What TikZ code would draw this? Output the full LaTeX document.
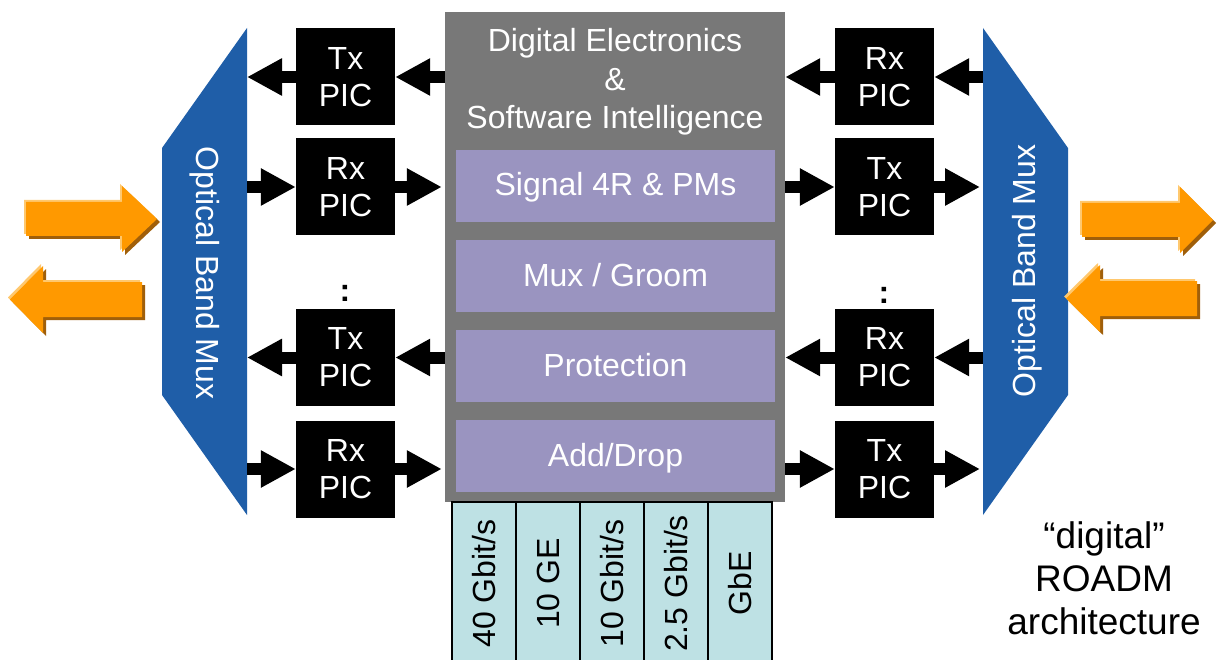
\documentclass[tikz,border=0pt]{standalone}
\usepackage{fontspec}
\setmainfont{Liberation Sans}
\usepackage{tikz}
\usetikzlibrary{arrows.meta}
\usetikzlibrary{calc}
\usetikzlibrary{positioning, shadows}
\definecolor{muxblue}{RGB}{31,94,168}
\definecolor{coregray}{RGB}{120,120,120}
\definecolor{funcpurple}{RGB}{154,148,192}
\definecolor{tribcyan}{RGB}{190,225,228}
\definecolor{arroworange}{RGB}{255,153,0}
\definecolor{orangedark}{RGB}{160,95,10}
\definecolor{orangelight}{RGB}{255,200,110}

\begin{document}
\begin{tikzpicture}[x=1pt, y=-1pt, font=\fontsize{32}{37}\selectfont,
	pic_node/.style={fill=black, text=white, align=center, inner sep=0pt, minimum width=99pt, minimum height=97pt},
	func_node/.style={fill=funcpurple, text=white, inner sep=0pt, text height=23pt, text depth=3pt, minimum width=319pt, minimum height=72pt},
	trib_node/.style={draw=black, line width=1.5pt, fill=tribcyan, rotate=90, inner sep=0pt, minimum width=163pt, minimum height=64pt},
	mux_text/.style={text=white, inner sep=0pt},
	blk_arrow/.style={line width=12pt, -{Triangle[length=35pt,width=35pt]}},
	big_arrow/.style={fill=arroworange, general shadow={fill=orangedark, shadow xshift=3pt, shadow yshift=-3pt}, general shadow={fill=orangelight, shadow xshift=-2pt, shadow yshift=2pt}}]
				\useasboundingbox (0,0) rectangle (1217,660);
				\fill[white] (0,0) rectangle (1217,660);
				\fill[muxblue] (247,28) -- (162,148) -- (162,395) -- (247,515) -- cycle;
				\fill[muxblue] (983,28) -- (1068,148) -- (1068,395) -- (983,515) -- cycle;
				\node[mux_text, rotate=-90](lmux) at (205,273){Optical Band Mux};
				\node[mux_text, rotate=90](rmux) at (1027,271){Optical Band Mux};
				\coordinate (lmux_e) at (247,271);
				\coordinate (rmux_w) at (983,271);
				\path[big_arrow] (26,202) -- (122,202) -- (122,186) -- (157,219) -- (122,252) -- (122,236) -- (26,236) -- cycle;
				\path[big_arrow] (142,282) -- (43,282) -- (43,266) -- (10,299.5) -- (43,333) -- (43,317) -- (142,317) -- cycle;
				\path[big_arrow] (1082,203) -- (1180,203) -- (1180,187) -- (1213,220) -- (1180,253) -- (1180,237) -- (1082,237) -- cycle;
				\path[big_arrow] (1197,281) -- (1100,281) -- (1100,265) -- (1066,298.5) -- (1100,332) -- (1100,316) -- (1197,316) -- cycle;
				\node[fill=coregray, minimum width=340pt, minimum height=490pt, inner sep=0pt](core) at (615,257){};
				\node[text=white, align=center, font=\fontsize{32}{38.5}\selectfont](title) at (615,82){Digital Electronics\\\&\\Software Intelligence};
				\node[func_node](f1) at (615.5,186){Signal 4R \& PMs};
				\node[func_node](f2) at (615.5,276){Mux / Groom};
				\node[func_node](f3) at (615.5,366){Protection};
				\node[func_node](f4) at (615.5,456){Add/Drop};
				\node[trib_node](t1) at (484,583.5){40 Gbit/s};
				\node[trib_node](t2) at (548,583.5){10 GE};
				\node[trib_node](t3) at (612,583.5){10 Gbit/s};
				\node[trib_node](t4) at (676,583.5){2.5 Gbit/s};
				\node[trib_node](t5) at (740,583.5){GbE};
				\node[pic_node](ltx1) at (345.5,77){Tx\\PIC};
				\node[pic_node](lrx1) at (345.5,187){Rx\\PIC};
				\node[pic_node](ltx2) at (345.5,357.5){Tx\\PIC};
				\node[pic_node](lrx2) at (345.5,469){Rx\\PIC};
				\node[pic_node](rrx1) at (884.5,77){Rx\\PIC};
				\node[pic_node](rtx1) at (884.5,187){Tx\\PIC};
				\node[pic_node](rrx2) at (884.5,357.5){Rx\\PIC};
				\node[pic_node](rtx2) at (884.5,469){Tx\\PIC};
				\node[font=\fontsize{32}{37}\selectfont\bfseries](ldots) at (345,293){:};
				\node[font=\fontsize{32}{37}\selectfont\bfseries](rdots) at (884,295){:};
				\node[align=center, font=\fontsize{37}{43}\selectfont](arch) at (1104,578){``digital''\\ROADM\\architecture};
				\path[blk_arrow]
				(core.west |- ltx1) edge (ltx1.east)
				(ltx1.west) edge (ltx1 -| lmux_e)
				(lmux_e |- lrx1) edge (lrx1.west)
				(lrx1.east) edge ($(core.west |- lrx1)+(-3,0)$)
				(core.west |- ltx2) edge (ltx2.east)
				(ltx2.west) edge (ltx2 -| lmux_e)
				(lmux_e |- lrx2) edge (lrx2.west)
				(lrx2.east) edge ($(core.west |- lrx2)+(-3,0)$)
				(rmux_w |- rrx1) edge (rrx1.east)
				(rrx1.west) edge (rrx1 -| core.east)
				(core.east |- rtx1) edge (rtx1.west)
				(rtx1.east) edge ($(rtx1 -| rmux_w)+(-3,0)$)
				(rmux_w |- rrx2) edge (rrx2.east)
				(rrx2.west) edge (rrx2 -| core.east)
				(core.east |- rtx2) edge (rtx2.west)
				(rtx2.east) edge ($(rtx2 -| rmux_w)+(-3,0)$);
			\end{tikzpicture}
\end{document}
